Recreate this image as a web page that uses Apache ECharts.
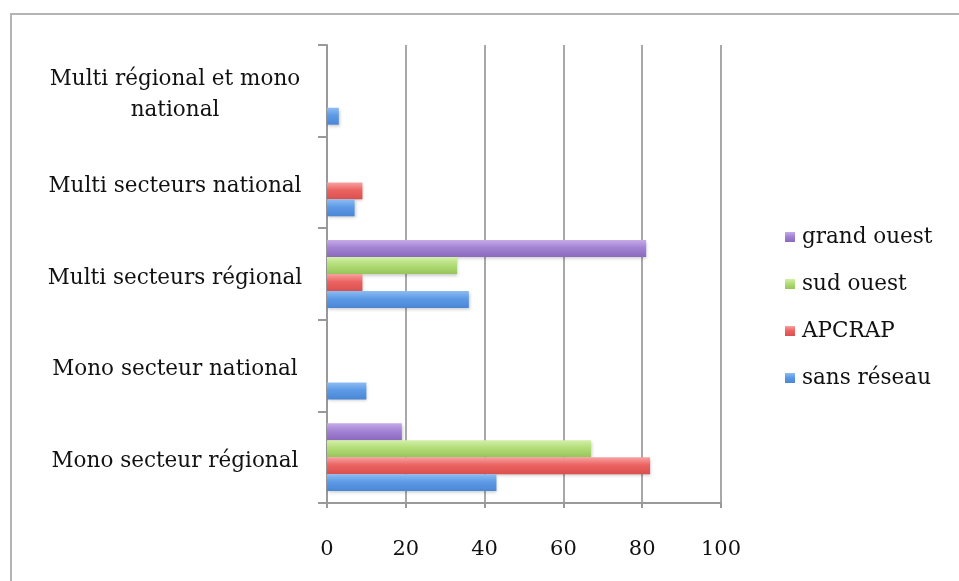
<!DOCTYPE html>
<html>
<head>
<meta charset="utf-8">
<script src="https://cdn.jsdelivr.net/npm/echarts@6/dist/echarts.min.js"></script>
<style>html,body{margin:0;padding:0;background:#fff;}#c{width:959px;height:581px;}</style>
</head>
<body>
<div id="c"></div>
<script>
const categories = ['Mono secteur régional', 'Mono secteur national', 'Multi secteurs régional', 'Multi secteurs national', 'Multi régional et mono national'];
const seriesNames = ['sans réseau', 'APCRAP', 'sud ouest', 'grand ouest'];
const sansReseau = [43, 10, 36, 7, 3];
const apcrap = [82, 0, 9, 9, 0];
const sudOuest = [67, 0, 33, 0, 0];
const grandOuest = [19, 0, 81, 0, 0];
const xTicks = [0, 20, 40, 60, 80, 100];

const colors = [
  ['#8dbcf2', '#5d9ae6', '#4a86d4'],
  ['#f7a3a2', '#ec6462', '#d9504e'],
  ['#d3f0a8', '#b3dd78', '#97c55a'],
  ['#c6aae8', '#a283d3', '#8b69bf']
];
function grad(c) {
  return new echarts.graphic.LinearGradient(0, 0, 0, 1, [
    {offset: 0, color: c[0]}, {offset: 0.45, color: c[1]}, {offset: 1, color: c[2]}
  ]);
}
const values = [sansReseau, apcrap, sudOuest, grandOuest];
const font = 'DejaVu Serif';
// ECharts places the first series at the top of a horizontal band, so feed them top-down
const order = [3, 2, 1, 0];

const chart = echarts.init(document.getElementById('c'), null, {renderer: 'canvas'});
chart.setOption({
  animation: false,
  backgroundColor: '#fff',
  graphic: [{
    type: 'rect', shape: {x: 11, y: 14, width: 1200, height: 1000},
    style: {fill: 'none', stroke: '#b4b4b4', lineWidth: 2}, silent: true, z: 0
  }],
  legend: {
    orient: 'vertical', left: 780, top: 221,
    data: seriesNames.slice().reverse(),
    itemWidth: 10, itemHeight: 10, itemGap: 25,
    icon: 'rect',
    textStyle: {fontFamily: font, fontSize: 21.5, color: '#111', padding: [0, 0, 0, 2]}
  },
  grid: {left: 327, right: 238, top: 45, bottom: 78, containLabel: false},
  xAxis: {
    type: 'value', min: 0, max: 100, interval: 20,
    axisLine: {show: true, lineStyle: {color: '#999', width: 2}},
    axisTick: {show: true, length: 5, lineStyle: {color: '#999', width: 2}},
    splitLine: {show: true, lineStyle: {color: '#a8a8a8', width: 2}},
    axisLabel: {fontFamily: font, fontSize: 21, color: '#111', margin: 36,
      formatter: v => xTicks.includes(v) ? String(v) : ''}
  },
  yAxis: {
    type: 'category', data: categories,
    axisLine: {show: true, lineStyle: {color: '#999', width: 2}},
    axisTick: {show: true, length: 9, lineStyle: {color: '#999', width: 2}},
    axisLabel: {fontFamily: font, fontSize: 21.5, color: '#111', align: 'center', margin: 152,
      formatter: v => v === 'Multi régional et mono national'
        ? '{a|Multi régional et mono}\n{a|national}'
        : '{a|' + v + '}',
      rich: {a: {fontFamily: font, fontSize: 21.5, color: '#111', lineHeight: 31, padding: [8, 0, 0, 0], align: 'center'}}
    }
  },
  series: order.map(i => ({
    name: seriesNames[i], type: 'bar', data: values[i],
    barGap: '0%', barCategoryGap: '26%',
    itemStyle: {color: grad(colors[i]), shadowBlur: 3, shadowOffsetX: 1, shadowOffsetY: 2, shadowColor: 'rgba(0,0,0,0.2)'}
  }))
});
</script>
</body>
</html>
